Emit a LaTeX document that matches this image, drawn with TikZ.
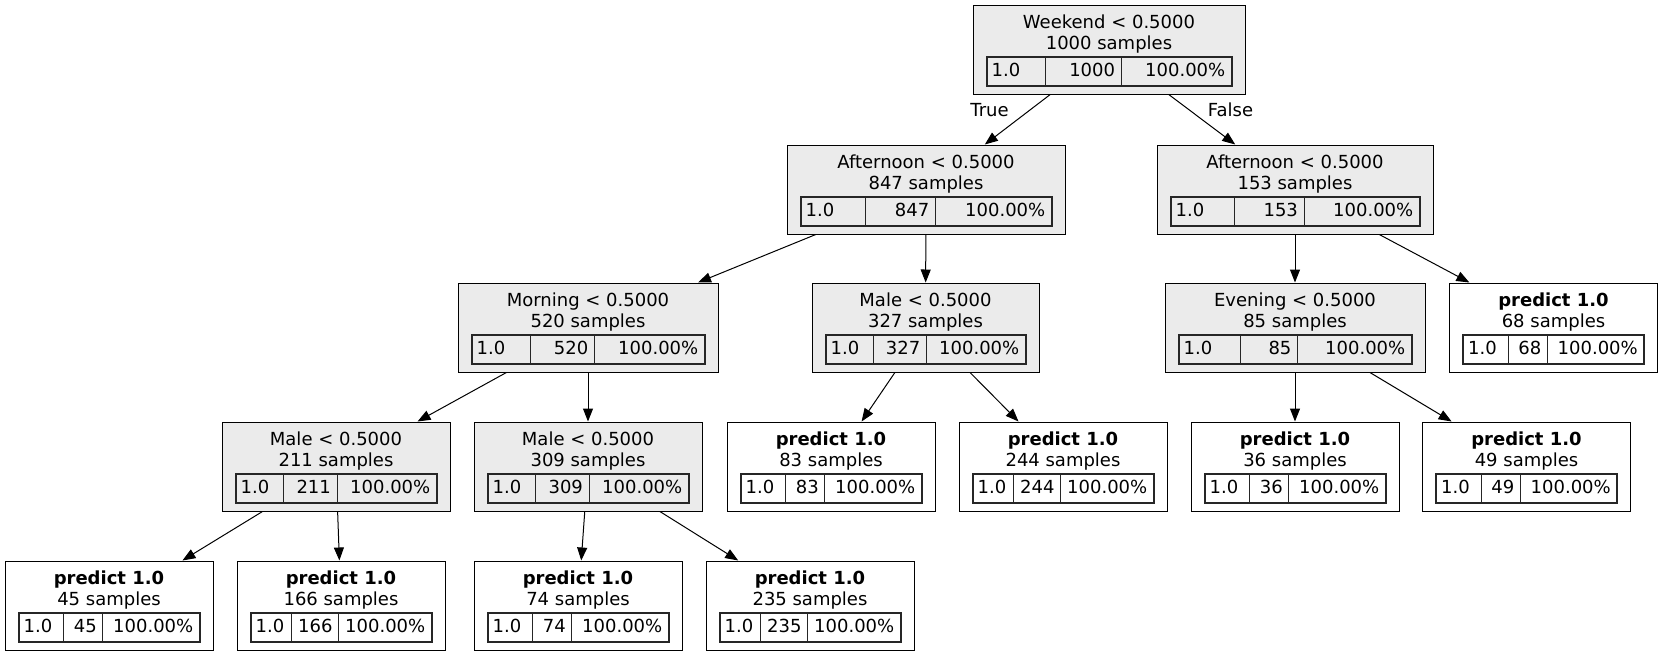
\documentclass[tikz,border=0pt]{standalone}
\usepackage{fontspec}
\setmainfont{DejaVu Sans}
\usepackage{tikz}
\usetikzlibrary{arrows.meta}

\definecolor{splitgray}{HTML}{EBEBEB}
\definecolor{rulegray}{HTML}{262626}

\tikzset{
  split/.style={draw, line width=1pt, fill=splitgray, minimum height=89pt},
  leaf/.style={draw, line width=1pt, fill=white, minimum height=89pt},
  tabframe/.style={draw=rulegray, line width=2pt},
  tabrule/.style={draw=rulegray, line width=1pt},
  edge/.style={line width=1pt, -{Triangle[length=13pt,width=10pt]}}
}

% box, two lines of text, and the small three-cell table
\newcommand{\dtnode}[7]{%
  \node[#5, minimum width=#4pt] (#1) at (#2,#3) {};
  \node[anchor=base] at (#2,#3-21.5) {#6};
  \node[anchor=base] at (#2,#3-0.5) {#7 samples};
  \pgfmathsetmacro\tabw{#4-27}
  \pgfmathsetmacro\tabl{#2-\tabw/2}
  \pgfmathsetmacro\tabr{#2+\tabw/2}
  \pgfmathsetmacro\tabpad{(\tabw-width("1.0")-width("#7")-width("100.00\%"))/3}
  \pgfmathsetmacro\cuta{\tabl+width("1.0")+\tabpad}
  \pgfmathsetmacro\cutb{\cuta+width("#7")+\tabpad}
  \draw[tabrule] (\cuta,#3+7.5) -- (\cuta,#3+36.5) (\cutb,#3+7.5) -- (\cutb,#3+36.5);
  \draw[tabframe] (\tabl,#3+7.5) rectangle (\tabr,#3+36.5);
  \node[anchor=base west] at (\tabl+5,#3+27) {1.0};
  \node[anchor=base east] at (\cutb-6,#3+27) {#7};
  \node[anchor=base east] at (\tabr-6,#3+27) {100.00\%};
}

\begin{document}
\begin{tikzpicture}[x=1pt, y=-1pt, inner sep=0pt]
  \fontsize{18}{21}\selectfont
  \useasboundingbox (0,0) rectangle (1663,656);

  \dtnode{wk}{1109}{49.5}{272}{split}{Weekend < 0.5000}{1000}
  \dtnode{aftT}{926}{189.5}{278}{split}{Afternoon < 0.5000}{847}
  \dtnode{aftF}{1295}{189.5}{276}{split}{Afternoon < 0.5000}{153}
  \dtnode{mor}{588}{327.5}{260}{split}{Morning < 0.5000}{520}
  \dtnode{maleA}{925.5}{327.5}{227}{split}{Male < 0.5000}{327}
  \dtnode{eve}{1295}{327.5}{260}{split}{Evening < 0.5000}{85}
  \dtnode{p68}{1553.5}{327.5}{208}{leaf}{\textbf{predict 1.0}}{68}
  \dtnode{maleB}{336}{466.5}{228}{split}{Male < 0.5000}{211}
  \dtnode{maleC}{588}{466.5}{228}{split}{Male < 0.5000}{309}
  \dtnode{p83}{831}{466.5}{208}{leaf}{\textbf{predict 1.0}}{83}
  \dtnode{p244}{1063}{466.5}{208}{leaf}{\textbf{predict 1.0}}{244}
  \dtnode{p36}{1295}{466.5}{208}{leaf}{\textbf{predict 1.0}}{36}
  \dtnode{p49}{1526.5}{466.5}{208}{leaf}{\textbf{predict 1.0}}{49}
  \dtnode{p45}{109}{605.5}{208}{leaf}{\textbf{predict 1.0}}{45}
  \dtnode{p166}{341}{605.5}{208}{leaf}{\textbf{predict 1.0}}{166}
  \dtnode{p74}{578}{605.5}{208}{leaf}{\textbf{predict 1.0}}{74}
  \dtnode{p235}{810}{605.5}{208}{leaf}{\textbf{predict 1.0}}{235}

  \node (true) at (989.5,110) {True};
  \node (false) at (1230.5,110) {False};

  \draw[edge] (wk) -- (aftT);
  \draw[edge] (wk) -- (aftF);
  \draw[edge] (aftT) -- (mor);
  \draw[edge] (aftT) -- (maleA);
  \draw[edge] (aftF) -- (eve);
  \draw[edge] (aftF) -- (p68);
  \draw[edge] (mor) -- (maleB);
  \draw[edge] (mor) -- (maleC);
  \draw[edge] (maleA) -- (p83);
  \draw[edge] (maleA) -- (p244);
  \draw[edge] (eve) -- (p36);
  \draw[edge] (eve) -- (p49);
  \draw[edge] (maleB) -- (p45);
  \draw[edge] (maleB) -- (p166);
  \draw[edge] (maleC) -- (p74);
  \draw[edge] (maleC) -- (p235);
\end{tikzpicture}
\end{document}
